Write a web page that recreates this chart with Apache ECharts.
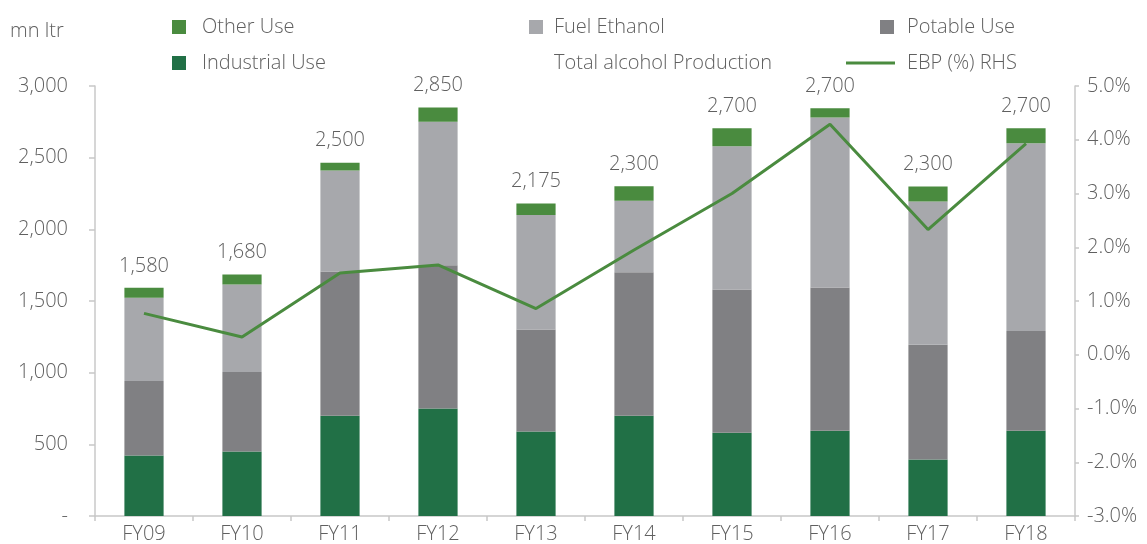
<!DOCTYPE html>
<html>
<head>
<meta charset="utf-8">
<script src="https://cdn.jsdelivr.net/npm/echarts@6/dist/echarts.min.js"></script>
<style>
html,body{margin:0;padding:0;background:#fff;}
#chart{width:1147px;height:544px;}
</style>
</head>
<body>
<div id="chart"></div>
<script>
var categories = ['FY09','FY10','FY11','FY12','FY13','FY14','FY15','FY16','FY17','FY18'];
var industrialUse = [422, 450, 700, 750, 590, 700, 580, 595, 395, 595];
var potableUse    = [520, 555, 1005, 1000, 712, 1000, 1000, 1000, 800, 695];
var fuelEthanol   = [580, 610, 705, 1000, 798, 500, 1000, 1185, 1000, 1310];
var otherUse      = [70, 70, 55, 100, 80, 100, 125, 65, 103, 105];
var totalProduction = [1580, 1680, 2500, 2850, 2175, 2300, 2700, 2700, 2300, 2700];
var ebp = [0.77, 0.33, 1.52, 1.67, 0.86, 1.95, 3.0, 4.29, 2.33, 3.93];
var leftTicks = {min: 0, max: 3000, interval: 500};
var rightTicks = {min: -3, max: 5, interval: 1};

var FONT = "'Open Sans', 'Noto Sans', sans-serif";
var FW = 300;
var FS = 20;
var TXT = '#606060';
var AX = '#c8c8c8';
var C_IND = '#217046', C_POT = '#808083', C_FUEL = '#a7a8ac', C_OTH = '#4a8b3f', C_LINE = '#4a8b3f';

function fmtNum(v){ return v === 0 ? '-' : v.toLocaleString('en-US'); }

function legendItem(name, left, top, pad, opts){
  var o = {
    show: true,
    data: [{name: name, icon: 'rect'}],
    left: left, top: top,
    orient: 'horizontal',
    itemWidth: 14, itemHeight: 14,
    padding: 0,
    selectedMode: false,
    textStyle: {fontFamily: FONT, fontWeight: FW, fontSize: FS, color: TXT, padding: [0,0,0,pad]}
  };
  if (opts) for (var k in opts) o[k] = opts[k];
  return o;
}

var chart = echarts.init(document.getElementById('chart'), null, {renderer: 'canvas'});
chart.setOption({
  animation: false,
  textStyle: {fontFamily: FONT, fontWeight: FW},
  grid: {left: 95, right: 72, top: 86, bottom: 25, containLabel: false},
  graphic: [{
    type: 'text', left: 10, top: 21,
    style: {text: 'mn ltr', fontFamily: FONT, fontWeight: FW, fontSize: FS, fill: TXT}
  }],
  legend: [
    legendItem('Other Use', 172, 17, 11),
    legendItem('Industrial Use', 172, 53, 11),
    legendItem('Fuel Ethanol', 529, 17, 6),
    legendItem('Total alcohol Production', 529, 53, 6, {data: [{name: 'Total alcohol Production', icon: 'rect', itemStyle: {color: 'rgba(0,0,0,0)', borderWidth: 0}}]}),
    legendItem('Potable Use', 880, 17, 8),
    legendItem('EBP (%) RHS', 846, 53, 7, {data: [{name: 'EBP (%) RHS', icon: 'rect', itemStyle: {color: C_LINE}}], itemWidth: 49, itemHeight: 3})
  ],
  xAxis: {
    type: 'category',
    data: categories,
    boundaryGap: true,
    axisLine: {show: true, lineStyle: {color: AX, width: 1.5}},
    axisTick: {show: true, length: 5, lineStyle: {color: AX, width: 1.5}},
    axisLabel: {fontFamily: FONT, fontWeight: FW, fontSize: FS, color: TXT, margin: 8}
  },
  yAxis: [{
    type: 'value',
    min: leftTicks.min, max: leftTicks.max, interval: leftTicks.interval,
    axisLine: {show: true, lineStyle: {color: AX, width: 1.5}},
    axisTick: {show: true, length: 6, lineStyle: {color: AX, width: 1.5}},
    splitLine: {show: false},
    axisLabel: {fontFamily: FONT, fontWeight: FW, fontSize: FS, color: TXT, margin: 27, formatter: fmtNum}
  }, {
    type: 'value',
    position: 'right',
    min: rightTicks.min, max: rightTicks.max, interval: rightTicks.interval,
    axisLine: {show: true, lineStyle: {color: AX, width: 1.5}},
    axisTick: {show: true, length: 4, lineStyle: {color: AX, width: 1.5}},
    splitLine: {show: false},
    axisLabel: {fontFamily: FONT, fontWeight: FW, fontSize: FS, color: TXT, margin: 12,
      formatter: function(v){ return v.toFixed(1) + '%'; }}
  }],
  series: [
    {name: 'Industrial Use', type: 'bar', stack: 'alc', barWidth: '40%', data: industrialUse, itemStyle: {color: C_IND}},
    {name: 'Potable Use', type: 'bar', stack: 'alc', data: potableUse, itemStyle: {color: C_POT}},
    {name: 'Fuel Ethanol', type: 'bar', stack: 'alc', data: fuelEthanol, itemStyle: {color: C_FUEL}},
    {name: 'Other Use', type: 'bar', stack: 'alc', data: otherUse, itemStyle: {color: C_OTH},
      label: {show: true, position: 'top', distance: 12, fontFamily: FONT, fontWeight: FW, fontSize: FS, color: TXT,
        formatter: function(p){ return fmtNum(totalProduction[p.dataIndex]); }}},
    {name: 'Total alcohol Production', type: 'line', data: totalProduction, symbol: 'none',
      lineStyle: {opacity: 0}, itemStyle: {color: 'rgba(0,0,0,0)'}, silent: true, z: 0},
    {name: 'EBP (%) RHS', type: 'line', yAxisIndex: 1, data: ebp, symbol: 'none',
      lineStyle: {color: C_LINE, width: 3}, itemStyle: {color: C_LINE}, z: 5}
  ]
});
</script>
</body>
</html>
